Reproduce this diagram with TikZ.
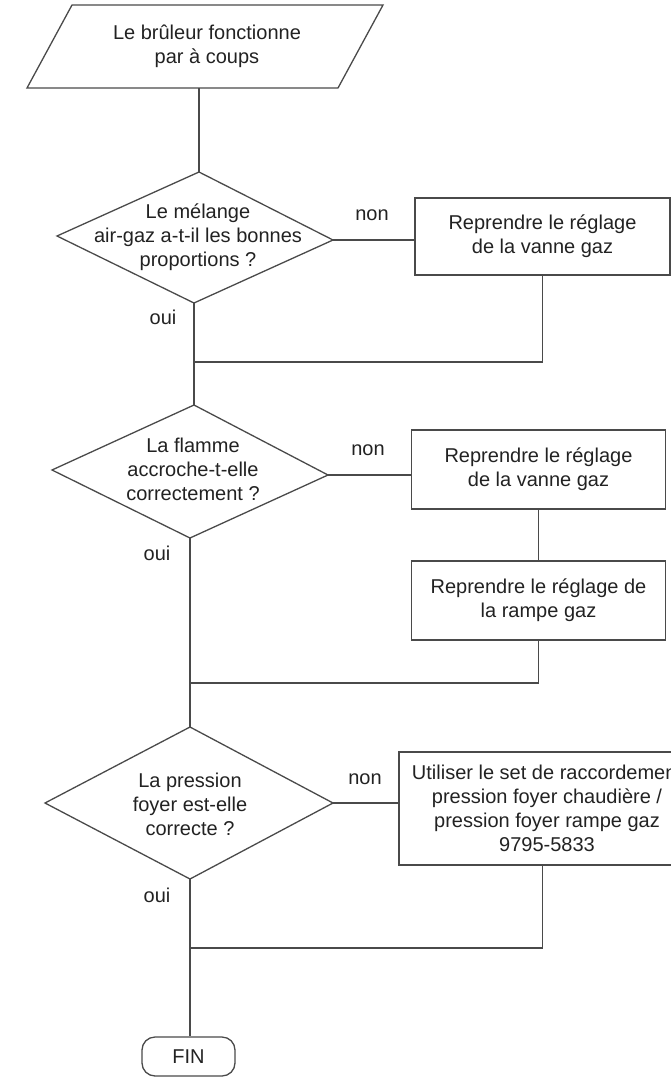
\documentclass[tikz,border=0pt]{standalone}
\usepackage{fontspec}
\setmainfont{Liberation Sans}
\definecolor{ln}{HTML}{4A4A4A}
\definecolor{tx}{HTML}{222222}
\begin{document}
\begin{tikzpicture}[x=1pt,y=-1pt,
  every node/.style={font=\fontsize{20}{24}\selectfont, text=tx},
  conn/.style={draw=ln, line width=1.3pt},
  shapeline/.style={draw=ln, line width=1.3pt, line join=miter},
  box/.style={draw=ln, line width=1.3pt, rectangle, inner sep=0pt, align=center},
  lbl/.style={align=center, inner sep=0pt},
  endbox/.style={draw=ln, line width=1.3pt, rectangle, rounded corners=13pt, inner sep=0pt}]
\useasboundingbox (0,0) rectangle (671,1077);
\clip (0,0) rectangle (671,1077);

% start (parallelogram)
\coordinate (p1) at (72,5);
\coordinate (p2) at (383,5);
\coordinate (p3) at (338,88);
\coordinate (p4) at (27,88);
\draw[shapeline] (p1) -- (p2) -- (p3) -- (p4) -- cycle;
\node[lbl] (start) at (207,46) {Le brûleur fonctionne\\par à coups};
\coordinate (startb) at (199,88);

% decision 1
\coordinate (d1t) at (199,172);
\coordinate (d1r) at (333,240);
\coordinate (d1b) at (194,303);
\coordinate (d1l) at (57,236);
\draw[shapeline] (d1t) -- (d1r) -- (d1b) -- (d1l) -- cycle;
\node[lbl] (q1) at (198,237) {Le mélange\\air-gaz a-t-il les bonnes\\proportions ?};
\node[box, minimum width=255pt, minimum height=77pt] (b1) at (542.5,236.5) {Reprendre le réglage\\de la vanne gaz};
\node[lbl] (non1) at (372,215) {non};
\node[lbl] (oui1) at (163,317) {oui};
\coordinate (m1) at (194,362);

% decision 2
\coordinate (d2t) at (194,405);
\coordinate (d2r) at (328,475);
\coordinate (d2b) at (190,538);
\coordinate (d2l) at (52,470);
\draw[shapeline] (d2t) -- (d2r) -- (d2b) -- (d2l) -- cycle;
\node[lbl] (q2) at (193,469) {La flamme\\accroche-t-elle\\correctement ?};
\node[box, minimum width=254pt, minimum height=79pt] (b2a) at (538.5,469.5) {Reprendre le réglage\\de la vanne gaz};
\node[box, minimum width=254pt, minimum height=79pt] (b2b) at (538.5,600.5) {Reprendre le réglage de\\la rampe gaz};
\node[lbl] (non2) at (368,450) {non};
\node[lbl] (oui2) at (157,553) {oui};
\coordinate (m2) at (190,683);

% decision 3
\coordinate (d3t) at (190,727);
\coordinate (d3r) at (333,803);
\coordinate (d3b) at (190,879);
\coordinate (d3l) at (45,803);
\draw[shapeline] (d3t) -- (d3r) -- (d3b) -- (d3l) -- cycle;
\node[lbl] (q3) at (190,804) {La pression\\foyer est-elle\\correcte ?};
\node[box, minimum width=296pt, minimum height=113pt] (b3) at (547,808.5) {Utiliser le set de raccordement\\pression foyer chaudière /\\pression foyer rampe gaz\\9795-5833};
\node[lbl] (non3) at (365,779) {non};
\node[lbl] (oui3) at (157,895) {oui};
\coordinate (m3) at (190,948);

% end
\node[endbox, minimum width=93pt, minimum height=39pt] (fin) at (188.5,1056.5) {FIN};

% connectors
\draw[conn] (startb) -- (d1t);
\draw[conn] (d1r) -- (d1r -| b1.west);
\draw[conn] (b1.south) |- (m1);
\draw[conn] (d1b) -- (d2t);
\draw[conn] (d2r) -- (d2r -| b2a.west);
\draw[conn] (b2a.south) -- (b2b.north);
\draw[conn] (b2b.south) |- (m2);
\draw[conn] (d2b) -- (d3t);
\draw[conn] (d3r) -- (d3r -| b3.west);
\draw[conn] (b3.south -| b1.south) |- (m3);
\draw[conn] (d3b) -- (d3b |- fin.north);
\end{tikzpicture}
\end{document}
